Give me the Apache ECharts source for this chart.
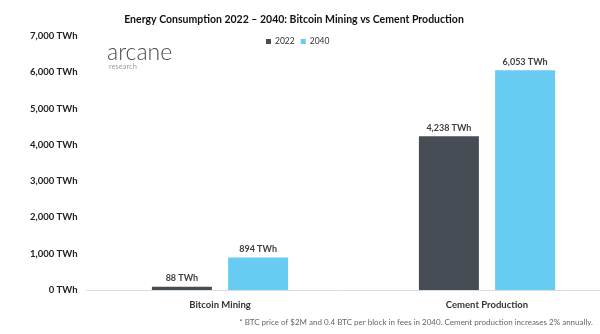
<!DOCTYPE html>
<html><head><meta charset="utf-8">
<script src="https://cdn.jsdelivr.net/npm/echarts@6/dist/echarts.min.js"></script>
<style>html,body{margin:0;padding:0;background:#fff}#c{width:600px;height:334px}</style>
</head><body><div id="c"></div>
<script>
const categories = ['Bitcoin Mining', 'Cement Production'];
const series2022 = [88, 4238];
const series2040 = [894, 6053];
const seriesNames = ['2022', '2040'];
const yTicks = [0, 1000, 2000, 3000, 4000, 5000, 6000, 7000];

const FONT = 'Lato, "Open Sans", sans-serif';
const fmt = v => v.toLocaleString('en-US') + ' TWh';
const chart = echarts.init(document.getElementById('c'));
const labelCfg = {
  show: true, position: 'top', distance: 4,
  formatter: p => fmt(p.value),
  fontFamily: FONT, fontSize: 9, fontWeight: 'bold', color: '#404040'
};
chart.setOption({
  animation: false,
  textStyle: { fontFamily: FONT },
  title: {
    text: 'Energy Consumption 2022 \u2013 2040: Bitcoin Mining vs Cement Production',
    left: 289, top: 9, textAlign: 'center',
    textStyle: { fontFamily: FONT, fontSize: 10.5, fontWeight: 'bold', color: '#111' }
  },
  legend: {
    data: seriesNames, left: 261, top: 32, itemWidth: 5, itemHeight: 5, itemGap: 6,
    icon: 'rect',
    textStyle: { fontFamily: FONT, fontSize: 8.5, color: '#333', padding: [0, 0, 0, -1] }
  },
  grid: { left: 86.5, width: 534, top: 36, bottom: 44, containLabel: false, outerBoundsMode: 'none' },
  xAxis: {
    type: 'category', data: categories,
    axisLine: { lineStyle: { color: '#d9dde2', width: 1 } },
    axisTick: { show: false },
    axisLabel: { fontFamily: FONT, fontSize: 9.5, fontWeight: 'bold', color: '#333', margin: 10 }
  },
  yAxis: {
    type: 'value', min: yTicks[0], max: yTicks[yTicks.length - 1], interval: 1000,
    splitLine: { show: false }, axisLine: { show: false }, axisTick: { show: false },
    axisLabel: { formatter: v => fmt(v), fontFamily: FONT, fontSize: 9.5, fontWeight: 'bold', color: '#222', margin: 9 }
  },
  series: [
    { name: seriesNames[0], type: 'bar', data: series2022, barWidth: 60, barGap: '27%',
      itemStyle: { color: '#474d55' }, label: labelCfg },
    { name: seriesNames[1], type: 'bar', data: series2040, barWidth: 60,
      itemStyle: { color: '#68ccf2' }, label: labelCfg }
  ],
  graphic: [
    { type: 'text', left: 107, top: 41, style: { text: 'arcane', font: '300 23px ' + FONT, fill: '#4a4a4a' } },
    { type: 'text', left: 109, top: 63, style: { text: 'research', font: '7.5px ' + FONT, fill: '#a0a0a0' } },
    { type: 'text', right: 7, top: 318, style: { text: '* BTC price of $2M and 0.4 BTC per block in fees in 2040. Cement production increases 2% annually.', font: '8px ' + FONT, fill: '#666' } }
  ]
});
</script></body></html>
